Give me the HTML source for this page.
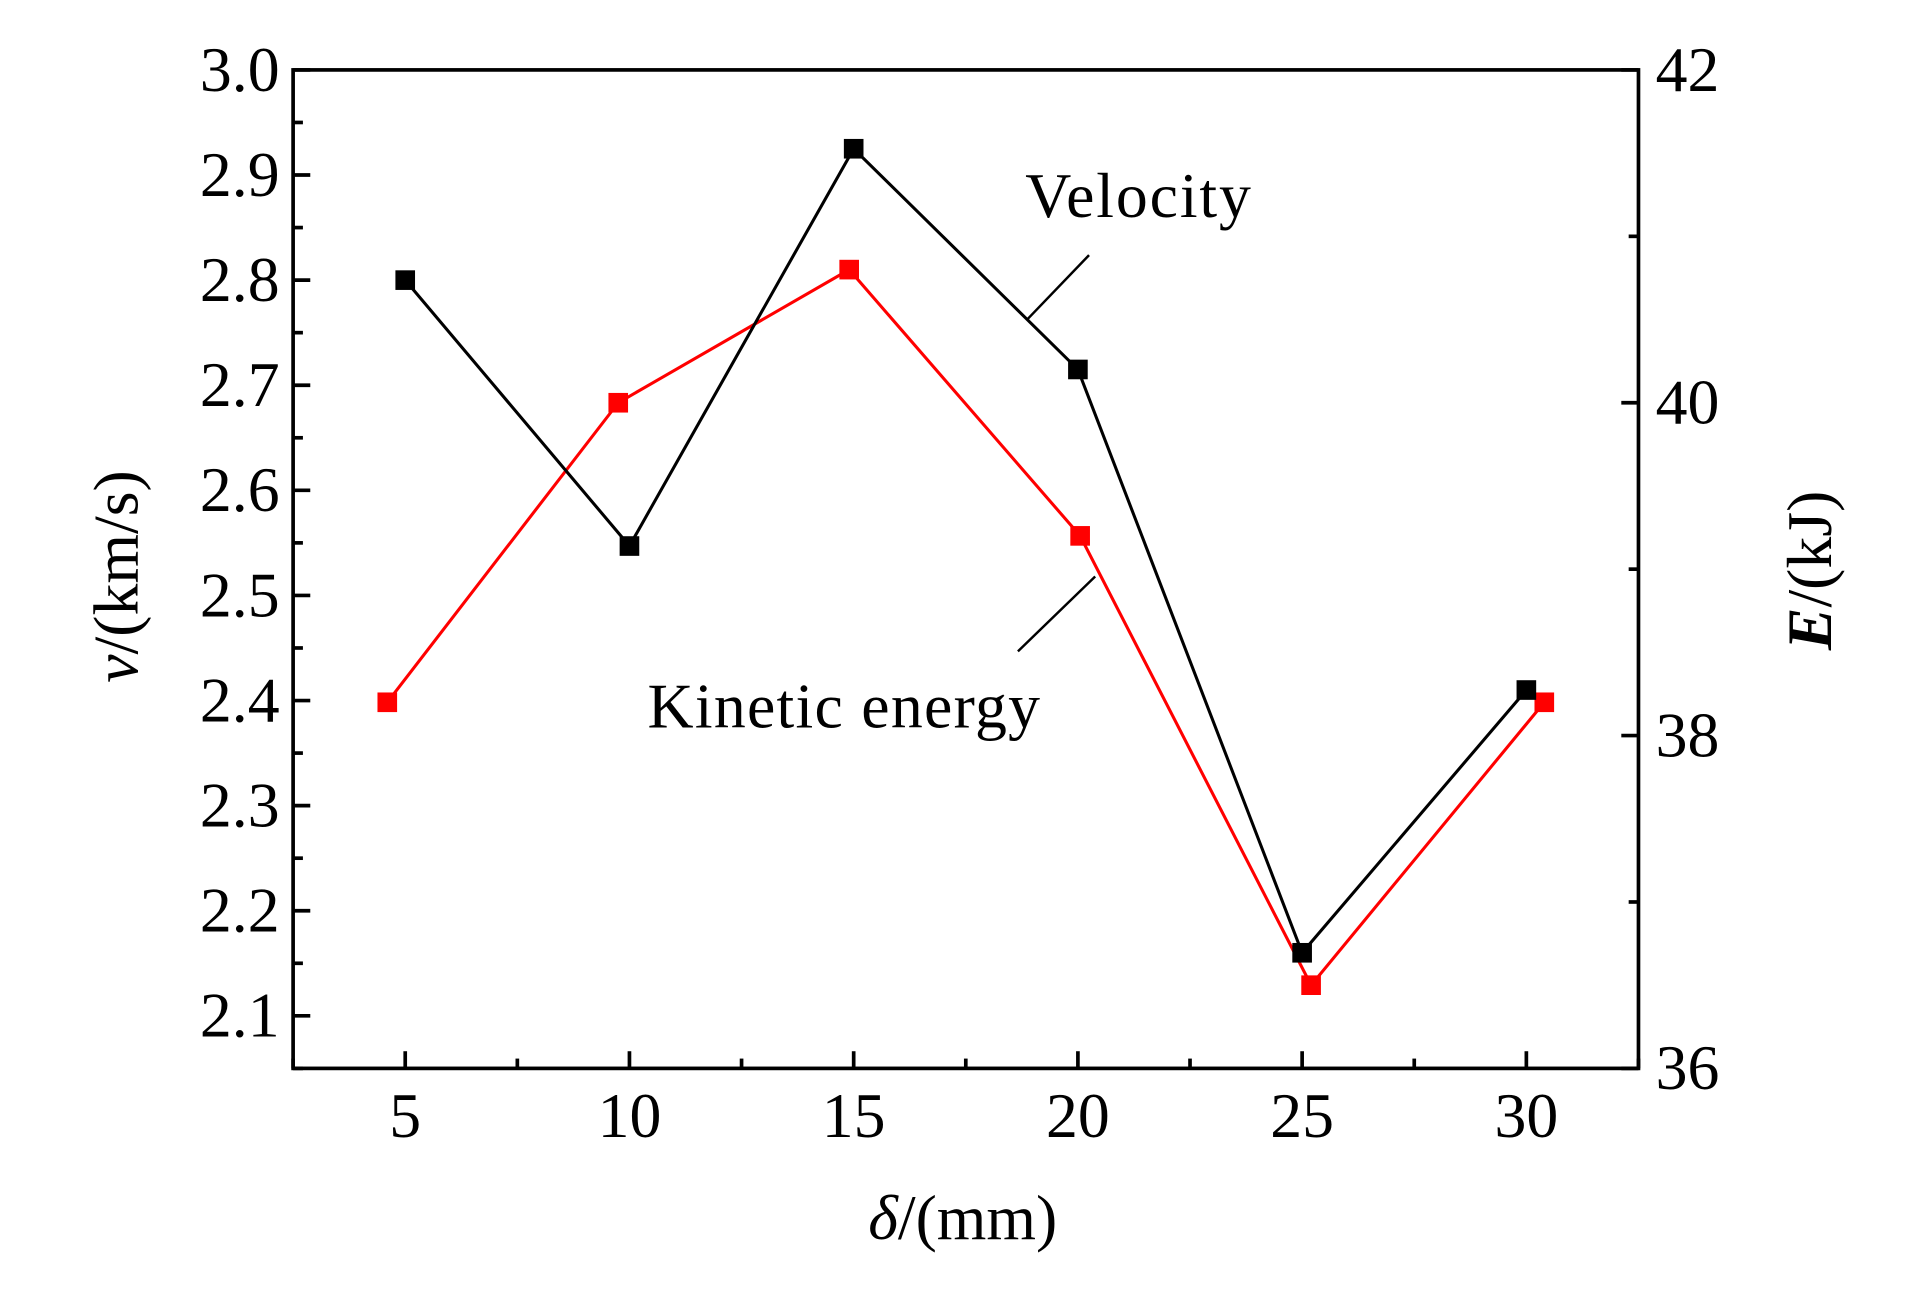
<!DOCTYPE html>
<html><head><meta charset="utf-8"><style>html,body{margin:0;padding:0;background:#fff}svg{display:block}</style></head>
<body>
<svg id="chart" width="1923" height="1299" viewBox="0 0 1568 1059" preserveAspectRatio="none" xmlns="http://www.w3.org/2000/svg" font-family="'Liberation Serif', serif">
<rect width="1568" height="1059" fill="#fff"/>
<g id="grid"></g>
<g id="marks"></g>
<rect x="239" y="57" width="1097" height="814" fill="none" stroke="#000" stroke-width="3"/>
<text transform="translate(112,470) rotate(-90)" text-anchor="middle" font-size="52"><tspan font-style="italic">v</tspan>/(km/s)</text>
<text transform="translate(1493,465) rotate(-90)" text-anchor="middle" font-size="52"><tspan font-style="italic" font-weight="bold">E</tspan>/(kJ)</text>
<text x="785" y="1010" text-anchor="middle" font-size="52"><tspan font-style="italic">δ</tspan>/(mm)</text>
<text x="836" y="177" font-size="52" textLength="184">Velocity</text>
<line x1="888" y1="208" x2="838" y2="260" stroke="#000" stroke-width="2"/>
<text x="528" y="593" font-size="52" textLength="320">Kinetic energy</text>
<line x1="893" y1="470" x2="830" y2="531" stroke="#000" stroke-width="2"/>
</svg>
<script>
const xTicks = [5, 10, 15, 20, 25, 30];
const yTicks = [2.1, 2.2, 2.3, 2.4, 2.5, 2.6, 2.7, 2.8, 2.9, 3.0];
const y2Ticks = [36, 38, 40, 42];
const velX = [5, 10, 15, 20, 25, 30];
const velocity = [2.80, 2.547, 2.925, 2.715, 2.16, 2.41];
const energyX = [4.6, 9.75, 14.9, 20.05, 25.2, 30.4];
const energy = [38.2, 40.0, 40.8, 39.2, 36.5, 38.2];

const L=239,R=1336,T=57,B=871;
const xs=v=>L+(v-2.5)/(32.5-2.5)*(R-L);
const ys=v=>B-(v-2.05)/(3.0-2.05)*(B-T);
const y2s=v=>B-(v-36)/(42-36)*(B-T);
const NS="http://www.w3.org/2000/svg";
const grid=document.getElementById('grid'), marks=document.getElementById('marks');
function mk(tag,attrs,parent){const e=document.createElementNS(NS,tag);for(const k in attrs)e.setAttribute(k,attrs[k]);parent.appendChild(e);return e;}

for(let v=2.5;v<=32.5;v+=2.5){const x=xs(v);const major=xTicks.includes(v);
 const t=mk('line',{x1:x,x2:x,y1:B,y2:B-(major?14:8),stroke:'#000','stroke-width':3},grid);
 
 }
xTicks.forEach(v=>{const t=mk('text',{x:xs(v),y:927,'text-anchor':'middle','font-size':52},grid);t.textContent=v;
 
 });
for(let i=0;i<=19;i++){const v=2.05+i*0.05;const y=ys(v);const major=i%2===1;
 const t=mk('line',{x1:L,x2:L+(major?14:8),y1:y,y2:y,stroke:'#000','stroke-width':3},grid);
 
 }
yTicks.forEach(v=>{const t=mk('text',{x:228,y:ys(v)+17,'text-anchor':'end','font-size':52},grid);t.textContent=v.toFixed(1);
 
 });
for(let v=36;v<=42;v++){const y=y2s(v);const major=v%2===0;
 const t=mk('line',{x1:R,x2:R-(major?14:8),y1:y,y2:y,stroke:'#000','stroke-width':3},grid);
 
 }
y2Ticks.forEach(v=>{const t=mk('text',{x:1350,y:y2s(v)+17,'font-size':52},grid);t.textContent=v;
 
 });

const ep=mk('polyline',{points:energyX.map((x,i)=>xs(x)+','+y2s(energy[i])).join(' '),fill:'none',stroke:'#f00','stroke-width':2.5},marks);


const vp=mk('polyline',{points:velX.map((x,i)=>xs(x)+','+ys(velocity[i])).join(' '),fill:'none',stroke:'#000','stroke-width':2.5},marks);


energyX.forEach((x,i)=>{const r=mk('rect',{x:xs(x)-8,y:y2s(energy[i])-8,width:16,height:16,fill:'#f00'},marks);
 
 });
velX.forEach((x,i)=>{const r=mk('rect',{x:xs(x)-8,y:ys(velocity[i])-8,width:16,height:16,fill:'#000'},marks);
 
 });
</script>
</body></html>
